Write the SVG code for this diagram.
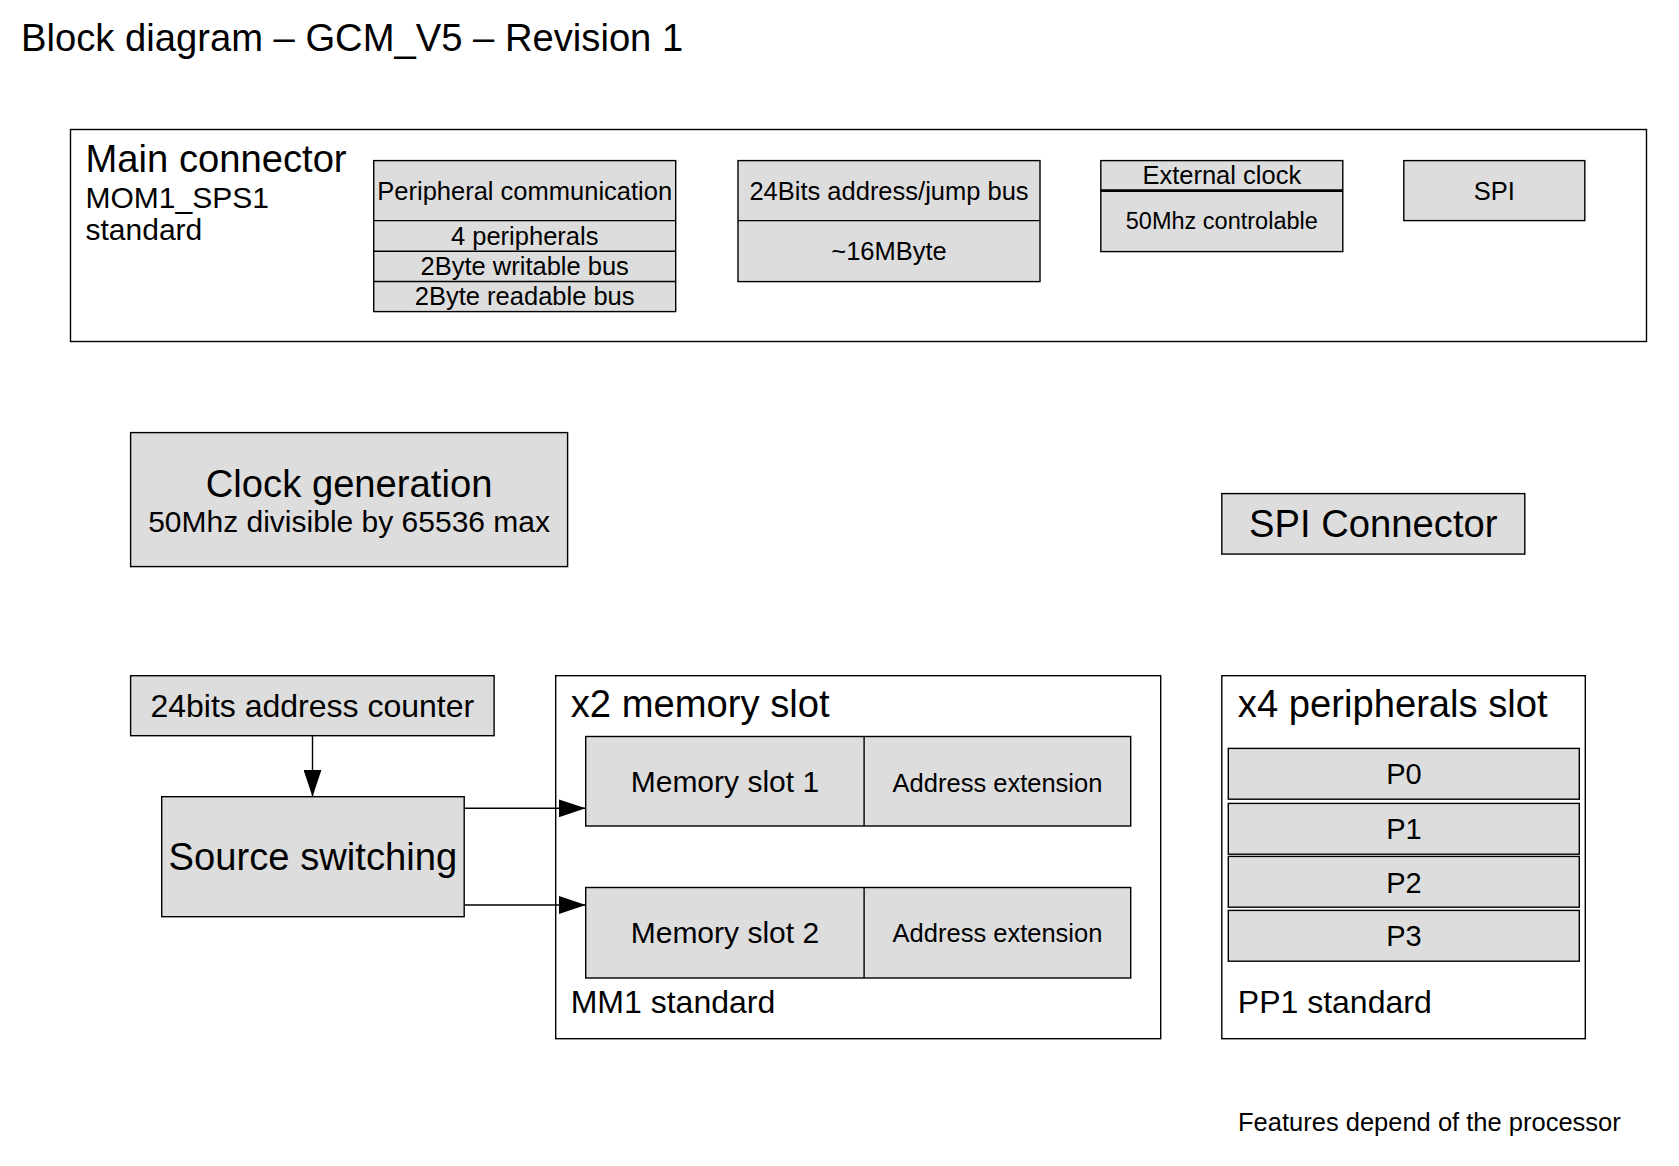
<svg xmlns="http://www.w3.org/2000/svg" width="1679" height="1166" viewBox="0 0 1679 1166">
<style>
text{font-family:"Liberation Sans",Arial,sans-serif;fill:#000}
.box{fill:#dddddd;stroke:#000;stroke-width:1.4}
.frame{fill:#fff;stroke:#000;stroke-width:1.4}
.div{stroke:#000;stroke-width:1.4}
.c{text-anchor:middle}
.f38{font-size:38.2px}.f32{font-size:32px}.f30{font-size:30px}.f28{font-size:29px}.f26{font-size:25.5px}.f23{font-size:23.5px}
.conn{stroke:#000;stroke-width:1.4;fill:none}
</style>
<defs>
<marker id="arr" markerUnits="userSpaceOnUse" markerWidth="28" markerHeight="18" refX="27" refY="9" orient="auto"><path d="M0,0 L27,9 L0,18 z" fill="#000"/></marker>
</defs>
<rect width="1679" height="1166" fill="#fff"/>
<text id="title" x="21" y="50.5" class="f38">Block diagram – GCM_V5 – Revision 1</text>

<g id="main-connector">
<rect class="frame" x="70.5" y="129.5" width="1576" height="212"/>
<text x="85.5" y="172" class="f38">Main connector</text>
<text x="85.5" y="208" class="f30">MOM1_SPS1</text>
<text x="85.5" y="239.5" class="f30">standard</text>
</g>

<g id="peripheral-communication">
<rect class="box" x="373.7" y="160.6" width="302" height="151"/>
<line class="div" x1="373.7" y1="220.6" x2="675.7" y2="220.6"/>
<line class="div" x1="373.7" y1="251.3" x2="675.7" y2="251.3"/>
<line class="div" x1="373.7" y1="281.5" x2="675.7" y2="281.5"/>
<text x="524.7" y="200" class="f26 c">Peripheral communication</text>
<text x="524.7" y="244.6" class="f26 c">4 peripherals</text>
<text x="524.7" y="274.8" class="f26 c">2Byte writable bus</text>
<text x="524.7" y="305" class="f26 c">2Byte readable bus</text>
</g>

<g id="address-bus">
<rect class="box" x="738" y="160.6" width="302" height="121"/>
<line class="div" x1="738" y1="220.6" x2="1040" y2="220.6"/>
<text x="889" y="200" class="f26 c">24Bits address/jump bus</text>
<text x="889" y="260" class="f26 c">~16MByte</text>
</g>

<g id="external-clock">
<rect class="box" x="1100.8" y="160.6" width="242" height="91"/>
<line x1="1100.8" y1="190.6" x2="1342.8" y2="190.6" stroke="#000" stroke-width="2.6"/>
<text x="1221.8" y="183.8" class="f26 c">External clock</text>
<text x="1221.8" y="228.8" class="f23 c">50Mhz controlable</text>
</g>

<g id="spi">
<rect class="box" x="1403.8" y="160.6" width="181" height="60"/>
<text x="1494.3" y="200" class="f26 c">SPI</text>
</g>

<g id="clock-generation">
<rect class="box" x="130.6" y="432.6" width="437" height="134"/>
<text x="349.1" y="496.5" class="f38 c">Clock generation</text>
<text x="349.1" y="531.5" class="f30 c">50Mhz divisible by 65536 max</text>
</g>

<g id="spi-connector">
<rect class="box" x="1221.8" y="493.6" width="303" height="60.5"/>
<text x="1373.3" y="536.5" class="f38 c">SPI Connector</text>
</g>

<g id="address-counter">
<rect class="box" x="130.6" y="675.7" width="363.5" height="60"/>
<text x="312.3" y="717.3" class="f32 c">24bits address counter</text>
</g>

<g id="source-switching">
<rect class="box" x="161.7" y="796.7" width="302.5" height="120"/>
<text x="312.9" y="870.3" class="f38 c">Source switching</text>
</g>

<g id="memory-slots">
<rect class="frame" x="555.7" y="675.7" width="605" height="363"/>
<text x="570.7" y="717.3" class="f38">x2 memory slot</text>
<text x="570.7" y="1013.3" class="f32">MM1 standard</text>
</g>
<g id="memory-slot-1">
<rect class="box" x="585.7" y="736.5" width="545" height="89.5"/>
<line class="div" x1="864.1" y1="736.5" x2="864.1" y2="826"/>
<text x="724.9" y="792.3" class="f30 c">Memory slot 1</text>
<text x="997.5" y="791.8" class="f26 c">Address extension</text>
</g>
<g id="memory-slot-2">
<rect class="box" x="585.7" y="887.5" width="545" height="90.5"/>
<line class="div" x1="864.1" y1="887.5" x2="864.1" y2="978"/>
<text x="724.9" y="942.5" class="f30 c">Memory slot 2</text>
<text x="997.5" y="942" class="f26 c">Address extension</text>
</g>

<g id="peripherals-slot">
<rect class="frame" x="1221.8" y="675.7" width="363.5" height="363"/>
<text x="1237.8" y="717.3" class="f38">x4 peripherals slot</text>
<text x="1237.8" y="1013.3" class="f32">PP1 standard</text>
</g>
<g id="p0"><rect class="box" x="1228.3" y="748.4" width="351" height="50.8"/><text x="1404" y="784.3" class="f28 c">P0</text></g>
<g id="p1"><rect class="box" x="1228.3" y="803.4" width="351" height="50.8"/><text x="1404" y="839.3" class="f28 c">P1</text></g>
<g id="p2"><rect class="box" x="1228.3" y="856.4" width="351" height="50.8"/><text x="1404" y="892.8" class="f28 c">P2</text></g>
<g id="p3"><rect class="box" x="1228.3" y="910.4" width="351" height="50.8"/><text x="1404" y="945.8" class="f28 c">P3</text></g>

<text id="note" x="1238" y="1131" class="f26">Features depend of the processor</text>

<g id="connectors">
<line class="conn" x1="312.5" y1="736" x2="312.5" y2="796.7" marker-end="url(#arr)"/>
<line class="conn" x1="464.2" y1="808.3" x2="585.7" y2="808.3" marker-end="url(#arr)"/>
<line class="conn" x1="464.2" y1="905" x2="585.7" y2="905" marker-end="url(#arr)"/>
</g>
</svg>
